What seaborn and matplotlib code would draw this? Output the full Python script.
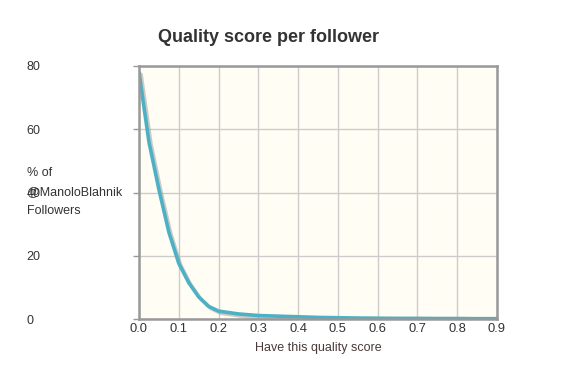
import numpy as np
import pandas as pd
import matplotlib
matplotlib.use("Agg")
import matplotlib.pyplot as plt
import matplotlib.patheffects as pe
import seaborn as sns

# values
score = [0.0, 0.025, 0.05, 0.075, 0.1, 0.125, 0.15, 0.175, 0.2, 0.25, 0.3, 0.35, 0.4, 0.45,
         0.5, 0.55, 0.6, 0.65, 0.7, 0.75, 0.8, 0.85, 0.9]
pct_followers = [78.0, 56.0, 41.0, 27.5, 17.6, 11.5, 7.0, 4.0, 2.5, 1.6, 1.1, 0.9, 0.7, 0.5,
                 0.4, 0.3, 0.25, 0.2, 0.2, 0.15, 0.15, 0.1, 0.1]
x_ticks = [0.0, 0.1, 0.2, 0.3, 0.4, 0.5, 0.6, 0.7, 0.8, 0.9]
y_ticks = [0, 20, 40, 60, 80]

df = pd.DataFrame({"score": score, "pct": pct_followers})

sns.set_theme(style="white")
plt.rcParams["font.family"] = ["Liberation Sans", "DejaVu Sans"]

fig = plt.figure(figsize=(5.73, 3.79), dpi=100)
ax = fig.add_axes([139 / 573, 1 - 319 / 379, 358 / 573, 253 / 379])
ax.set_facecolor("#fffdf4")

sns.lineplot(data=df, x="score", y="pct", ax=ax, color="#4cb1c4", linewidth=2.6,
             path_effects=[pe.SimpleLineShadow(offset=(1.5, -1.5), shadow_color="#999999", alpha=0.5),
                           pe.Normal()])
for l in ax.lines:
    l.set_solid_joinstyle("round")

ax.set_xlim(0, 0.9)
ax.set_ylim(0, 80)
ax.set_xticks(x_ticks)
ax.set_xticklabels([f"{t:.1f}" for t in x_ticks])
ax.set_yticks(y_ticks)
ax.set_yticklabels([str(t) for t in y_ticks])
ax.grid(True, color="#cccccc", linewidth=1)

for side in ["left", "bottom", "top", "right"]:
    ax.spines[side].set_visible(True)
    ax.spines[side].set_color("#999999")
    ax.spines[side].set_linewidth(1.8)

ax.tick_params(axis="y", which="both", left=True, length=4, width=1, color="#999999",
               pad=77, labelsize=9, labelcolor="#333333")
for lab in ax.get_yticklabels():
    lab.set_horizontalalignment("left")
ax.tick_params(axis="x", which="both", bottom=False, pad=-3, labelsize=9.3, labelcolor="#333333")

ax.set_xlabel("Have this quality score", fontsize=9, color="#4a3a3a", labelpad=5)
ax.set_ylabel("% of\n@ManoloBlahnik\nFollowers", fontsize=9, color="#333333",
              rotation=0, ha="left", va="center", linespacing=1.75)
ax.yaxis.set_label_coords((27 - 139) / 358, (319 - 192) / 253)

fig.text(158 / 573, 1 - 37 / 379, "Quality score per follower", fontsize=13,
         fontweight="bold", color="#333333", ha="left", va="center")

fig.savefig("out.png", dpi=100)
